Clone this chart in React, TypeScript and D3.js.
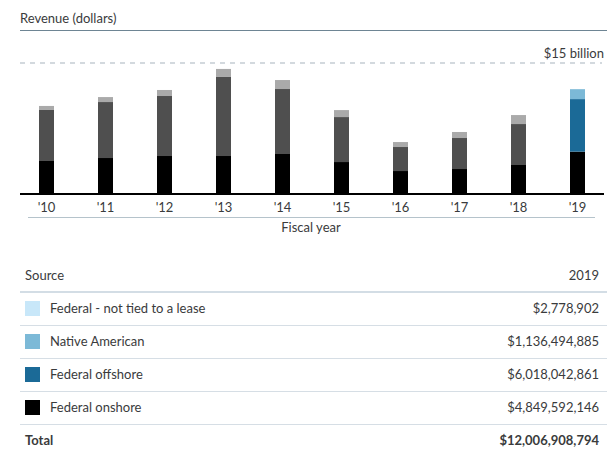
import React from "react";
import * as d3 from "d3";

const years = ["2010","2011","2012","2013","2014","2015","2016","2017","2018","2019"];
const tickLabels = ["'10","'11","'12","'13","'14","'15","'16","'17","'18","'19"];
const federalOnshore = [3.78e9, 4.12e9, 4.35e9, 4.35e9, 4.58e9, 3.66e9, 2.63e9, 2.86e9, 3.32e9, 4849592146];
const federalOffshore = [5.84e9, 6.41e9, 6.87e9, 9.05e9, 7.44e9, 5.15e9, 2.75e9, 3.55e9, 4.69e9, 6018042861];
const nativeAmerican = [0.46e9, 0.57e9, 0.69e9, 0.92e9, 1.03e9, 0.8e9, 0.57e9, 0.69e9, 1.03e9, 1136494885];
const notTied = [3e6, 3e6, 3e6, 3e6, 3e6, 3e6, 3e6, 3e6, 3e6, 2778902];

const keys = ["onshore", "offshore", "native", "notTied"];
const legendLabels = ["Federal - not tied to a lease", "Native American", "Federal offshore", "Federal onshore"];
const legendKeys = ["notTied", "native", "offshore", "onshore"];
const selectedYear = "2019";
const maxValue = 15e9;
const maxLabel = "$15 billion";

const selColors: Record<string, string> = {
  onshore: "#000000",
  offshore: "#1b6a97",
  native: "#7cb9d7",
  notTied: "#c8e7f9",
};
const greyColors: Record<string, string> = {
  onshore: "#000000",
  offshore: "#4f4f4f",
  native: "#aaaaaa",
  notTied: "#d8d8d8",
};

const FONT = "Lato, 'Open Sans', sans-serif";
const TEXT = "#3a3b3c";

export default function App() {
  const rows = years.map((y, i) => ({
    year: y,
    onshore: federalOnshore[i],
    offshore: federalOffshore[i],
    native: nativeAmerican[i],
    notTied: notTied[i],
  }));
  const series = d3.stack<any>().keys(keys)(rows);

  const x = d3.scaleBand().domain(years).range([17, 607]).padding(0);
  const y = d3.scaleLinear().domain([0, maxValue]).range([194, 63]);
  const barW = 15;

  const selIdx = years.indexOf(selectedYear);
  const selRow = rows[selIdx] as any;
  const total = keys.reduce((s, k) => s + selRow[k], 0);
  const fmt = (v: number) => "$" + d3.format(",")(Math.round(v));

  const rowTop = 292;
  const rowH = 33;

  return (
    <svg width={607} height={455} style={{ position: "absolute", left: 0, top: 0, fontFamily: FONT }}>
      <rect width={607} height={455} fill="#fff" />
      <text x={20} y={23} fontSize={13} fill={TEXT}>Revenue (dollars)</text>
      <line x1={20} x2={607} y1={30.5} y2={30.5} stroke="#6e8594" strokeWidth={1.2} />

      <line x1={20} x2={602} y1={y(maxValue)} y2={y(maxValue)} stroke="#d3d9de" strokeWidth={2} strokeDasharray="5,5" />
      <text x={604} y={58} fontSize={13} fill={TEXT} textAnchor="end">{maxLabel}</text>

      {series.map((s) => (
        <g key={s.key}>
          {s.map((d: any, i: number) => {
            const yr = years[i];
            const col = yr === selectedYear ? selColors[s.key] : greyColors[s.key];
            const y0 = y(d[0]);
            const y1 = y(d[1]);
            return (
              <rect
                key={yr}
                x={(x(yr) as number) + x.bandwidth() / 2 - barW / 2}
                y={y1}
                width={barW}
                height={Math.max(0, y0 - y1)}
                fill={col}
              />
            );
          })}
        </g>
      ))}

      <line x1={20} x2={604} y1={194} y2={194} stroke="#000" strokeWidth={2} />
      {years.map((yr, i) => (
        <text key={yr} x={(x(yr) as number) + x.bandwidth() / 2} y={212} fontSize={13} fill={TEXT} textAnchor="middle">
          {tickLabels[i]}
        </text>
      ))}
      <line x1={28} x2={595} y1={217.5} y2={217.5} stroke="#b5c3cb" strokeWidth={1} />
      <text x={311} y={232} fontSize={13} fill={TEXT} textAnchor="middle">Fiscal year</text>

      <text x={25} y={280} fontSize={13} fill={TEXT}>Source</text>
      <text x={599} y={280} fontSize={13} fill={TEXT} textAnchor="end">{selectedYear}</text>
      <line x1={20} x2={607} y1={rowTop} y2={rowTop} stroke="#d3dde5" strokeWidth={2} />

      {legendKeys.map((k, i) => {
        const cy = rowTop + rowH * i + 16.5;
        return (
          <g key={k}>
            <rect x={25} y={cy - 7.5} width={15} height={15} fill={selColors[k]} />
            <text x={50} y={cy + 4.5} fontSize={13} fill={TEXT}>{legendLabels[i]}</text>
            <text x={599} y={cy + 4.5} fontSize={13} fill={TEXT} textAnchor="end">{fmt(selRow[k])}</text>
            <line x1={20} x2={607} y1={rowTop + rowH * (i + 1) + 0.5} y2={rowTop + rowH * (i + 1) + 0.5} stroke="#d6dee5" strokeWidth={1} />
          </g>
        );
      })}
      <text x={25} y={445} fontSize={13} fontWeight="bold" fill={TEXT}>Total</text>
      <text x={599} y={445} fontSize={13} fontWeight="bold" fill={TEXT} textAnchor="end">{fmt(total)}</text>
    </svg>
  );
}
